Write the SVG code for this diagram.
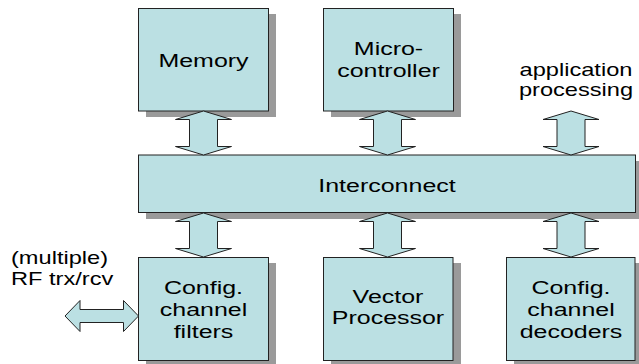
<svg xmlns="http://www.w3.org/2000/svg" xmlns:xlink="http://www.w3.org/1999/xlink" width="639" height="364" viewBox="0 0 639 364">
  <style>
    .box { fill: #BBE0E3; stroke: #222; stroke-width: 1; }
    .shadow { fill: #9A9A9A; }
    .arrow { fill: #BBE0E3; stroke: #222; stroke-width: 1; stroke-linejoin: miter; }
    text { font-family: "Liberation Sans", Arial, sans-serif; fill: #000; }
    .lbl { font-size: 18.5px; text-anchor: middle; }
    .side { font-size: 17.5px; }
  </style>
  <defs>
    <!-- vertical double-headed block arrow, 44 tall, centred on x=0 -->
    <path id="varrow" d="M0,0 L28,8.5 L14,8.5 L14,35.5 L28,35.5 L0,44 L-28,35.5 L-14,35.5 L-14,8.5 L-28,8.5 Z"/>
  </defs>

  <rect width="639" height="364" fill="#fff"/>

  <!-- nodes -->
  <g id="memory">
    <rect class="shadow" x="146" y="14" width="130" height="103"/>
    <rect class="box" x="138.5" y="8.5" width="130" height="102.5"/>
    <text class="lbl" transform="translate(203.5,66.5) scale(1.35,1)">Memory</text>
  </g>
  <g id="microcontroller">
    <rect class="shadow" x="331" y="14" width="130" height="103"/>
    <rect class="box" x="323.5" y="8.5" width="130" height="102.5"/>
    <text class="lbl" transform="translate(388.5,55) scale(1.35,1)">Micro-</text>
    <text class="lbl" transform="translate(388.5,77) scale(1.35,1)">controller</text>
  </g>
  <g id="interconnect">
    <rect class="shadow" x="146" y="161" width="498" height="58"/>
    <rect class="box" x="138.5" y="155" width="497" height="57.5"/>
    <text class="lbl" transform="translate(387,191.5) scale(1.35,1)">Interconnect</text>
  </g>
  <g id="filters">
    <rect class="shadow" x="146" y="263" width="130" height="104"/>
    <rect class="box" x="138.5" y="257.5" width="130" height="103"/>
    <text class="lbl" transform="translate(203.5,293.5) scale(1.35,1)">Config.</text>
    <text class="lbl" transform="translate(203.5,315.5) scale(1.35,1)">channel</text>
    <text class="lbl" transform="translate(203.5,337.5) scale(1.35,1)">filters</text>
  </g>
  <g id="vector-processor">
    <rect class="shadow" x="331" y="263" width="130" height="104"/>
    <rect class="box" x="323.5" y="257.5" width="129.5" height="103"/>
    <text class="lbl" transform="translate(388,302.5) scale(1.35,1)">Vector</text>
    <text class="lbl" transform="translate(388,324) scale(1.35,1)">Processor</text>
  </g>
  <g id="decoders">
    <rect class="shadow" x="514" y="263" width="130" height="104"/>
    <rect class="box" x="506.5" y="257.5" width="128.5" height="103"/>
    <text class="lbl" transform="translate(571,293.5) scale(1.35,1)">Config.</text>
    <text class="lbl" transform="translate(571,315.5) scale(1.35,1)">channel</text>
    <text class="lbl" transform="translate(571,337.5) scale(1.35,1)">decoders</text>
  </g>
  <g id="rf-label">
    <text class="side" transform="translate(11,264) scale(1.35,1)">(multiple)</text>
    <text class="side" transform="translate(11,284.5) scale(1.35,1)">RF trx/rcv</text>
  </g>
  <g id="app-label">
    <text class="side" text-anchor="middle" transform="translate(576,75.5) scale(1.35,1)">application</text>
    <text class="side" text-anchor="middle" transform="translate(576,96) scale(1.35,1)">processing</text>
  </g>

  <!-- connectors -->
  <g id="connectors">
    <use xlink:href="#varrow" class="arrow" x="203.5" y="111"/>
    <use xlink:href="#varrow" class="arrow" x="387.5" y="111"/>
    <use xlink:href="#varrow" class="arrow" x="571" y="111"/>
    <use xlink:href="#varrow" class="arrow" x="203.5" y="213"/>
    <use xlink:href="#varrow" class="arrow" x="387.5" y="213"/>
    <use xlink:href="#varrow" class="arrow" x="571" y="213"/>
    <!-- horizontal RF link into the filter block -->
    <path class="arrow" d="M65,316 L80,300.5 L80,309.5 L123.5,309.5 L123.5,300.5 L138.5,316 L123.5,331.5 L123.5,322.5 L80,322.5 L80,331.5 Z"/>
  </g>
</svg>
